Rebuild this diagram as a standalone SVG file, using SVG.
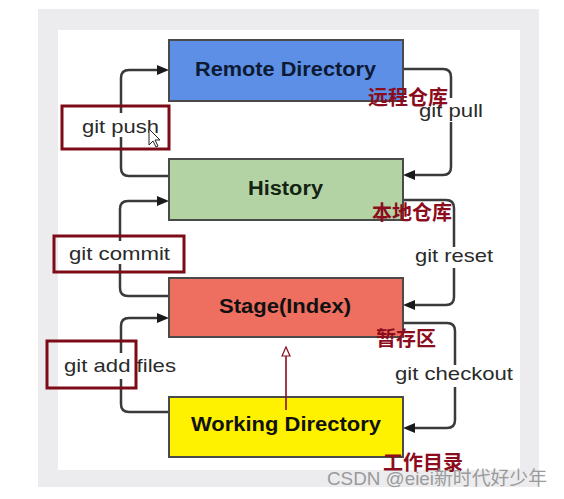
<svg xmlns="http://www.w3.org/2000/svg" width="564" height="499" viewBox="0 0 564 499">
<style>
.node{stroke:#4a4a4a;stroke-width:2}
.title{font-family:"Liberation Sans",Arial,sans-serif;font-weight:bold;font-size:19.5px;fill:#111}
.lbl{font-family:"Liberation Sans",Arial,sans-serif;font-size:19px;fill:#2a2a2a}
.conn{fill:none;stroke:#3a3a3a;stroke-width:2.5;marker-end:url(#ah)}
.gap{fill:#fff}
.rbox{fill:none;stroke:#7d0a17;stroke-width:3}
.cn{font-family:"Noto Sans CJK SC",sans-serif;font-weight:bold;font-size:20px;fill:#8b0c1c}
</style>
<defs>
<marker id="ah" markerUnits="userSpaceOnUse" markerWidth="13" markerHeight="11" refX="5" refY="5" orient="auto">
<path d="M0,0 L12,5 L0,10 z" fill="#1a1a1a"/>
</marker>
</defs>
<rect x="0" y="0" width="564" height="499" fill="#fff"/>
<rect x="38" y="9" width="501" height="478" fill="#ececef"/>
<rect x="58" y="30" width="462" height="440" fill="#fff"/>

<g id="connectors">
<path class="conn" d="M169,176 H129 Q121,176 121,168 V78 Q121,70 129,70 H162"/>
<path class="conn" d="M169,296 H128 Q120,296 120,288 V209 Q120,201 128,201 H162"/>
<path class="conn" d="M169,412 H129 Q121,412 121,404 V326 Q121,318 129,318 H162"/>
<path class="conn" d="M403,69 H443 Q451,69 451,77 V167 Q451,175 443,175 H410"/>
<path class="conn" d="M403,200 H446 Q454,200 454,208 V297 Q454,305 446,305 H410"/>
<path class="conn" d="M403,323 H447 Q455,323 455,331 V420 Q455,428 447,428 H410"/>
<rect class="gap" x="114" y="113" width="14" height="24"/>
<rect class="gap" x="113" y="241" width="14" height="23"/>
<rect class="gap" x="114" y="353" width="14" height="26"/>
<rect class="gap" x="444" y="98" width="14" height="24"/>
<rect class="gap" x="447" y="247" width="14" height="21"/>
<rect class="gap" x="448" y="365" width="14" height="22"/>
<text class="lbl" x="82" y="133" textLength="77" lengthAdjust="spacingAndGlyphs">git push</text>
<text class="lbl" x="69" y="260" textLength="101" lengthAdjust="spacingAndGlyphs">git commit</text>
<text class="lbl" x="64" y="372" textLength="112" lengthAdjust="spacingAndGlyphs">git add files</text>
<text class="lbl" x="419" y="117" textLength="64" lengthAdjust="spacingAndGlyphs">git pull</text>
<text class="lbl" x="415" y="262" textLength="78" lengthAdjust="spacingAndGlyphs">git reset</text>
<text class="lbl" x="395" y="380" textLength="118" lengthAdjust="spacingAndGlyphs">git checkout</text>
</g>

<g id="remote">
<rect class="node" x="169" y="40" width="234" height="61" fill="#5d8fe6"/>
<text class="title" x="195" y="76" textLength="181" lengthAdjust="spacingAndGlyphs" style="fill:#0d1a33">Remote Directory</text>
</g>
<g id="history">
<rect class="node" x="169" y="159" width="234" height="61" fill="#b4d3a4"/>
<text class="title" x="248" y="195" textLength="75" lengthAdjust="spacingAndGlyphs" style="fill:#142414">History</text>
</g>
<g id="stage">
<rect class="node" x="169" y="278" width="234" height="59" fill="#ee6e60"/>
<text class="title" x="219" y="313" textLength="132" lengthAdjust="spacingAndGlyphs">Stage(Index)</text>
</g>
<g id="working">
<rect class="node" x="169" y="397" width="234" height="60" fill="#fff200"/>
<text class="title" x="191" y="431" textLength="190" lengthAdjust="spacingAndGlyphs">Working Directory</text>
</g>

<g id="annotations">
<rect class="rbox" x="62" y="106" width="107" height="43"/>
<rect class="rbox" x="54" y="236" width="130" height="36"/>
<rect class="rbox" x="47" y="341" width="89" height="47"/>
<text class="cn" x="368" y="105">远程仓库</text>
<text class="cn" x="372" y="220">本地仓库</text>
<text class="cn" x="376" y="346">暂存区</text>
<text class="cn" x="383" y="470">工作目录</text>
<line x1="286" y1="410" x2="286" y2="355" stroke="#8b0c1c" stroke-width="1.6"/>
<path d="M282,356 L286,347 L290,356 Z" fill="#fff" stroke="#8b0c1c" stroke-width="1.2"/>
<polygon points="149,129 149,145 153,141 156,147 158,146 155,140 160,140" fill="#fff" stroke="#222" stroke-width="1"/>
</g>

<text x="327" y="485" textLength="220" lengthAdjust="spacingAndGlyphs" style="font-family:'Liberation Sans','Noto Sans CJK SC',sans-serif;font-size:19px;fill:#9a9a9a">CSDN @eiei新时代好少年</text>
</svg>
